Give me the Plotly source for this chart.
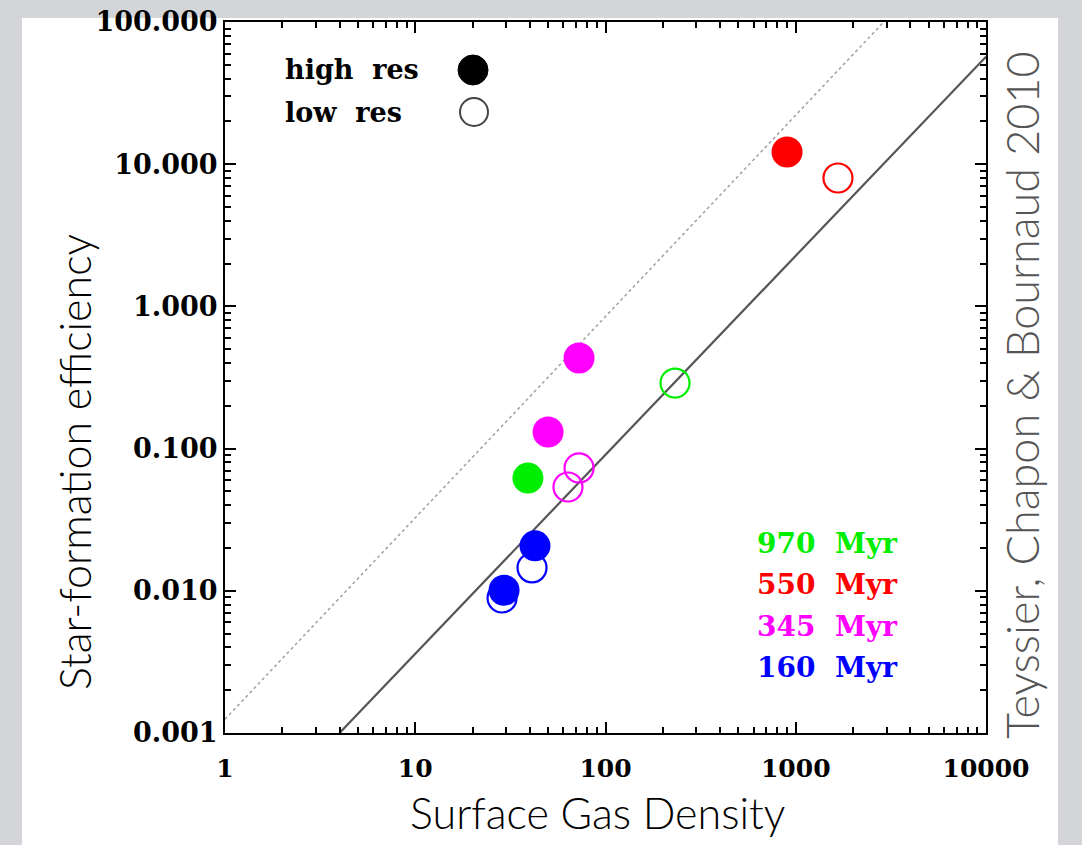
import plotly.graph_objects as go

# ---------------- data ----------------
epochs = ["970 Myr", "550 Myr", "345 Myr", "160 Myr"]
epoch_colors = ["#00ee00", "#ff0000", "#ff00ff", "#0000ff"]

high_x = [[39.1], [900.0], [72.6, 49.9], [42.6, 29.3]]
high_y = [[0.062], [12.2], [0.434, 0.131], [0.0207, 0.0101]]

low_x = [[232.0], [1667.0], [72.6, 63.5], [41.1, 28.6]]
low_y = [[0.289], [8.0], [0.0731, 0.0537], [0.0145, 0.0089]]

solid_x = [4.0, 10000.0]
solid_y = [0.001, 57.0]
dotted_x = [1.0, 2900.0]
dotted_y = [0.00125, 100.0]

x_tickvals = [1, 10, 100, 1000, 10000]
x_ticktext = ["1", "10", "100", "1000", "10000"]
y_tickvals = [100, 10, 1, 0.1, 0.01, 0.001]
y_ticktext = ["100.000", "10.000", "1.000", "0.100", "0.010", "0.001"]

# ---------------- layout geometry ----------------
W, H = 1082, 845
L, R, T, B = 225, 986, 22, 733


def px(x):
    return (x - L) / (R - L)


def py(y):
    return (B - y) / (B - T)


fig = go.Figure()

fig.add_trace(go.Scatter(x=dotted_x, y=dotted_y, mode="lines",
                         line=dict(color="#a0a0a0", width=1.5, dash="dot"),
                         showlegend=False, hoverinfo="skip"))
fig.add_trace(go.Scatter(x=solid_x, y=solid_y, mode="lines",
                         line=dict(color="#555555", width=2.2),
                         showlegend=False, hoverinfo="skip"))

for i in range(len(epochs)):
    fig.add_trace(go.Scatter(
        x=low_x[i], y=low_y[i], mode="markers", name=epochs[i] + " low res",
        marker=dict(size=29, color="rgba(255,255,255,0)",
                    line=dict(color=epoch_colors[i], width=2.2)),
        showlegend=False))
for i in range(len(epochs)):
    fig.add_trace(go.Scatter(
        x=high_x[i], y=high_y[i], mode="markers", name=epochs[i] + " high res",
        marker=dict(size=31, color=epoch_colors[i], line=dict(width=0)),
        showlegend=False))

serif = "DejaVu Serif"
sans = "Lato"

annotations = []
# legend texts
for txt, yy in (("high\u00a0\u00a0res", 70), ("low\u00a0\u00a0res", 112)):
    annotations.append(dict(x=px(283), y=py(yy), xref="paper", yref="paper",
                            text="<b>" + txt + "</b>", showarrow=False,
                            xanchor="left", yanchor="middle",
                            font=dict(family=serif, size=27, color="black")))
# epoch labels
for i, (lab, col) in enumerate(zip(epochs, epoch_colors)):
    annotations.append(dict(x=px(755), y=py(543 + i * 41.5), xref="paper", yref="paper",
                            text="<b>" + lab.replace(" ", "\u00a0\u00a0") + "</b>",
                            showarrow=False, xanchor="left", yanchor="middle",
                            font=dict(family=serif, size=28, color=col)))
# axis titles
annotations.append(dict(x=px(75), y=py(462), xref="paper", yref="paper",
                        text="Star-formation efficiency", textangle=-90, showarrow=False,
                        xanchor="center", yanchor="middle",
                        font=dict(family=sans, size=43, color="black", weight=300)))
annotations.append(dict(x=px(597), y=py(812), xref="paper", yref="paper",
                        text="Surface Gas Density", showarrow=False,
                        xanchor="center", yanchor="middle",
                        font=dict(family=sans, size=43, color="black", weight=300)))
annotations.append(dict(x=px(1022), y=py(395), xref="paper", yref="paper",
                        text="Teyssier, Chapon &amp; Bournaud 2010", textangle=-90,
                        showarrow=False, xanchor="center", yanchor="middle",
                        font=dict(family=sans, size=45, color="#555555", weight=300)))

frame_grey = "#d3d5d8"
shapes = [
    # grey page frame around the white card (outside the plot area)
    dict(type="rect", xref="paper", yref="paper", x0=px(0), x1=px(W),
         y0=py(18), y1=py(0), fillcolor=frame_grey, line=dict(width=0), layer="below"),
    dict(type="rect", xref="paper", yref="paper", x0=px(0), x1=px(22),
         y0=py(H), y1=py(0), fillcolor=frame_grey, line=dict(width=0), layer="below"),
    dict(type="rect", xref="paper", yref="paper", x0=px(1058), x1=px(W),
         y0=py(H), y1=py(0), fillcolor=frame_grey, line=dict(width=0), layer="below"),
    # legend symbols
    dict(type="circle", xref="paper", yref="paper", xsizemode="pixel", ysizemode="pixel",
         xanchor=px(473), yanchor=py(70), x0=-15, x1=15, y0=-15, y1=15,
         fillcolor="black", line=dict(color="black", width=1)),
    dict(type="circle", xref="paper", yref="paper", xsizemode="pixel", ysizemode="pixel",
         xanchor=px(474), yanchor=py(112), x0=-14, x1=14, y0=-14, y1=14,
         fillcolor="white", line=dict(color="#444444", width=2)),
]

axis_common = dict(type="log", gridcolor="rgba(0,0,0,0)", showline=True,
                   linecolor="black", linewidth=2, mirror="allticks",
                   tickmode="linear", tick0=0, dtick=1,
                   ticks="inside", tickwidth=2, tickcolor="black", ticklen=11,
                   minor=dict(ticks="inside", ticklen=6, tickwidth=1.5,
                              tickcolor="black", gridcolor="rgba(0,0,0,0)"))

fig.update_layout(
    width=W, height=H,
    margin=dict(l=L, r=W - R, t=T, b=H - B, autoexpand=False),
    paper_bgcolor="white", plot_bgcolor="white",
    showlegend=False,
    xaxis=dict(range=[0, 4], tickformat="d",
               labelalias=dict(zip([f"{v:d}" for v in x_tickvals], x_ticktext)),
               tickfont=dict(family=serif, size=25, color="black", weight="bold"),
               ticklabelstandoff=12, **axis_common),
    yaxis=dict(range=[-3, 2], tickformat=".3f",
               labelalias=dict(zip([f"{v:.3f}" for v in y_tickvals], y_ticktext)),
               tickfont=dict(family=serif, size=27, color="black", weight="bold"),
               **axis_common),
    annotations=annotations,
    shapes=shapes,
)

fig.write_html("out.html")
